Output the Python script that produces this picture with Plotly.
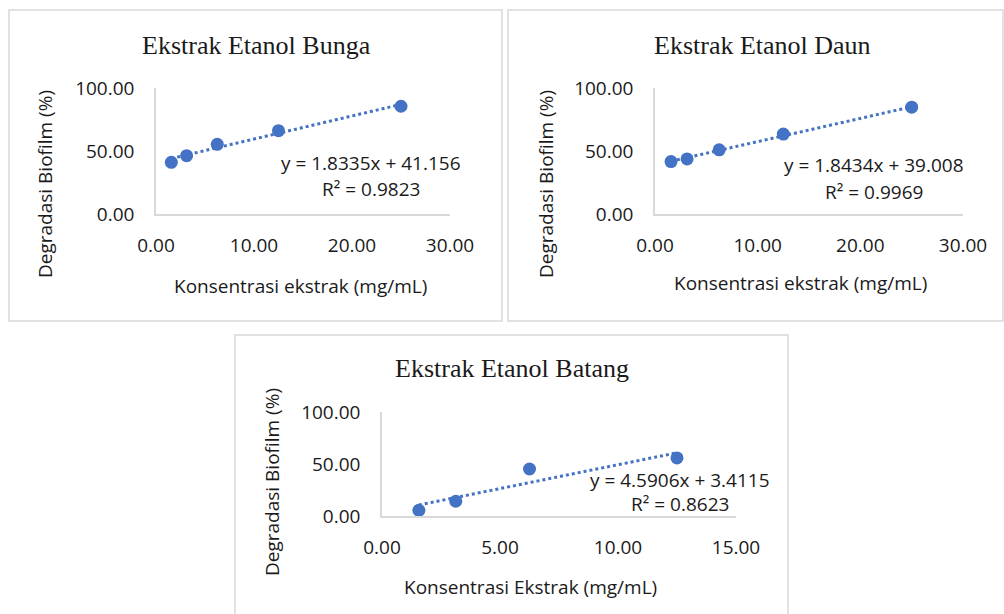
import numpy as np
import plotly.graph_objects as go

# ---------------- data ----------------
conc = [1.5625, 3.125, 6.25, 12.5, 25.0]
bunga = [41.0, 46.3, 55.3, 66.1, 85.5]
daun = [41.6, 43.7, 50.9, 63.4, 84.8]
conc_batang = [1.5625, 3.125, 6.25, 12.5]
batang = [5.5, 14.2, 45.2, 55.8]

titles = ["Ekstrak Etanol Bunga", "Ekstrak Etanol Daun", "Ekstrak Etanol Batang"]
x_titles = ["Konsentrasi ekstrak (mg/mL)", "Konsentrasi ekstrak (mg/mL)", "Konsentrasi Ekstrak (mg/mL)"]
y_title = "Degradasi Biofilm (%)"
slopes = [1.8335, 1.8434, 4.5906]
intercepts = [41.156, 39.008, 3.4115]
r2 = [0.9823, 0.9969, 0.8623]
x_ticks = [[0, 10, 20, 30], [0, 10, 20, 30], [0, 5, 10, 15]]
y_ticks = [0, 50, 100]

W, H = 1004, 614
BLUE = "#4472C4"
AXC = "#D9D9D9"
TXT = "#1a1a1a"
SANS = "Open Sans, Noto Sans, sans-serif"
SERIF = "Liberation Serif, DejaVu Serif, serif"
FS = 19

def px(x):
    return x / W

def py(y):
    return 1 - y / H

# layout geometry (pixels)
panels = [
    dict(box=(9, 10, 502, 321), plot=(156, 450, 88, 214), title=(256, 45),
         ytitle=(45, 184), xtitle=(300, 286), eq=(371, 163, 189)),
    dict(box=(508, 10, 1003, 321), plot=(655, 963, 88, 214), title=(762, 45),
         ytitle=(546, 184), xtitle=(800, 283), eq=(874, 165, 192)),
    dict(box=(235, 335, 788, 640), plot=(382, 736, 412, 516), title=(512, 368),
         ytitle=(272, 482), xtitle=(530, 587), eq=(680, 480, 504)),
]

xs_list = [conc, conc, conc_batang]
ys_list = [bunga, daun, batang]

fig = go.Figure()
shapes = []
annotations = []

for i, p in enumerate(panels):
    xa = "x" if i == 0 else f"x{i+1}"
    ya = "y" if i == 0 else f"y{i+1}"
    xs = xs_list[i]
    ys = ys_list[i]
    # trendline
    tx = np.array([min(xs), max(xs)])
    ty = slopes[i] * tx + intercepts[i]
    fig.add_trace(go.Scatter(x=tx, y=ty, mode="lines", xaxis=xa, yaxis=ya,
                             line=dict(color=BLUE, width=3, dash="dot"),
                             showlegend=False, hoverinfo="skip", cliponaxis=False))
    fig.add_trace(go.Scatter(x=xs, y=ys, mode="markers", xaxis=xa, yaxis=ya,
                             marker=dict(color=BLUE, size=13),
                             showlegend=False, cliponaxis=False))
    x0, x1, ytop, ybot = p["plot"]
    xkey = "xaxis" if i == 0 else f"xaxis{i+1}"
    ykey = "yaxis" if i == 0 else f"yaxis{i+1}"
    fig.update_layout(**{
        xkey: dict(domain=[px(x0), px(x1)], anchor=ya, range=[x_ticks[i][0], x_ticks[i][-1]],
                   tickvals=x_ticks[i], tickformat=".2f", showgrid=False, zeroline=False,
                   showline=True, linecolor=AXC, linewidth=1.5, ticks="",
                   ticklabelstandoff=13, automargin=False,
                   tickfont=dict(family=SANS, size=FS, color=TXT)),
        ykey: dict(domain=[py(ybot), py(ytop)], anchor=xa, range=[0, 100],
                   tickvals=y_ticks, tickformat=".2f", showgrid=False, zeroline=False,
                   showline=True, linecolor=AXC, linewidth=1.5, ticks="",
                   ticklabelstandoff=16, automargin=False,
                   tickfont=dict(family=SANS, size=FS, color=TXT)),
    })
    bx0, by0, bx1, by1 = p["box"]
    shapes.append(dict(type="rect", xref="paper", yref="paper",
                       x0=px(bx0), x1=px(bx1), y0=py(by1), y1=py(by0),
                       line=dict(color=AXC, width=1.5), fillcolor="rgba(0,0,0,0)"))
    annotations.append(dict(text=titles[i], x=px(p["title"][0]), y=py(p["title"][1]),
                            xref="paper", yref="paper", showarrow=False,
                            xanchor="center", yanchor="middle",
                            font=dict(family=SERIF, size=26, color=TXT)))
    annotations.append(dict(text=y_title, x=px(p["ytitle"][0]), y=py(p["ytitle"][1]),
                            xref="paper", yref="paper", showarrow=False, textangle=-90,
                            xanchor="center", yanchor="middle",
                            font=dict(family=SANS, size=FS, color=TXT)))
    annotations.append(dict(text=x_titles[i], x=px(p["xtitle"][0]), y=py(p["xtitle"][1]),
                            xref="paper", yref="paper", showarrow=False,
                            xanchor="center", yanchor="middle",
                            font=dict(family=SANS, size=FS, color=TXT)))
    eqx, eqy1, eqy2 = p["eq"]
    annotations.append(dict(text=f"y = {slopes[i]:.4f}x + {intercepts[i]:g}",
                            x=px(eqx), y=py(eqy1), xref="paper", yref="paper",
                            showarrow=False, xanchor="center", yanchor="middle",
                            font=dict(family=SANS, size=FS, color=TXT)))
    annotations.append(dict(text=f"R² = {r2[i]:.4f}",
                            x=px(eqx), y=py(eqy2), xref="paper", yref="paper",
                            showarrow=False, xanchor="center", yanchor="middle",
                            font=dict(family=SANS, size=FS, color=TXT)))

fig.update_layout(width=W, height=H, margin=dict(l=0, r=0, t=0, b=0, pad=0, autoexpand=False),
                  paper_bgcolor="white", plot_bgcolor="rgba(0,0,0,0)",
                  shapes=shapes, annotations=annotations, showlegend=False)

fig.write_html("out.html", config={"displayModeBar": False},
               post_script="document.body.style.margin='0';document.body.style.overflow='hidden';")
